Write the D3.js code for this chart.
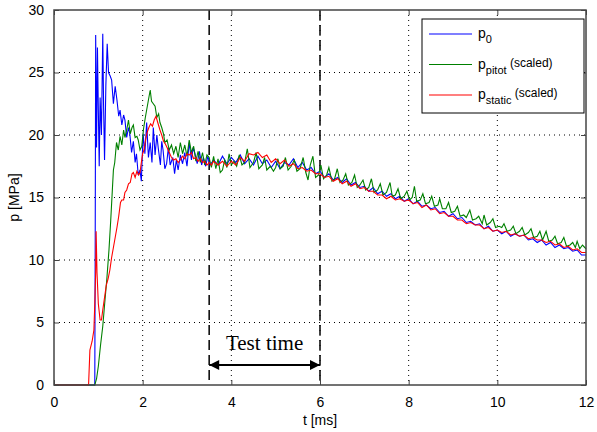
<!DOCTYPE html>
<html>
<head>
<meta charset="utf-8">
<script src="https://cdn.jsdelivr.net/npm/d3@7"></script>
<style>
  body { margin: 0; background: #fff; }
  text { font-family: "Liberation Sans Narrow", "Liberation Sans", Arial, sans-serif; }
</style>
</head>
<body>
<script>
// pressure traces, [t (ms), p (MPa)]
var p0 = [[0,0],[0.92,0],[0.93,12],[0.94,28],[0.96,19],[0.98,27],[1.0,22],[1.02,17.5],[1.04,23],[1.07,20],[1.1,28.1],[1.12,22],[1.14,18],[1.17,24],[1.2,27.3],[1.23,25],[1.27,24.7],[1.3,24.4],[1.34,22.5],[1.38,23.9],[1.42,22.8],[1.46,21.5],[1.49,22],[1.53,20.8],[1.57,21.6],[1.6,21.2],[1.64,19.8],[1.68,20.6],[1.71,20.1],[1.75,18.6],[1.79,19.5],[1.83,17.8],[1.86,18.5],[1.9,16.8],[1.94,17.2],[1.97,16.3],[2.01,20.1],[2.05,18.5],[2.09,21],[2.13,18.2],[2.17,19.4],[2.21,17.8],[2.24,20.6],[2.28,18.4],[2.32,20],[2.35,19],[2.4,17.6],[2.43,19.5],[2.46,18.8],[2.5,17.3],[2.54,17.7],[2.58,19],[2.62,17.6],[2.68,18.2],[2.72,16.9],[2.76,18],[2.8,17.2],[2.85,18.4],[2.9,17.7],[2.95,18.6],[3.0,17.5],[3.05,19.4],[3.1,18],[3.14,19],[3.18,18.5],[3.23,17.7],[3.28,18.7],[3.33,17.6],[3.37,18.2],[3.42,17.5],[3.47,18.3],[3.52,17.6],[3.6,18.0],[3.7,17.6],[3.8,18.3],[3.9,17.7],[4.0,18.2],[4.1,17.8],[4.2,18.4],[4.3,17.7],[4.4,18.1],[4.5,17.6],[4.6,18.3],[4.7,17.7],[4.8,18.0],[4.9,17.4],[5.0,17.9],[5.1,17.3],[5.2,17.8],[5.3,17.6],[5.4,18.1],[5.5,17.4],[5.6,17.8],[5.7,17.2],[5.8,17.4],[5.9,16.9],[6.0,17.1],[6.1,16.6],[6.2,16.9],[6.3,16.4],[6.4,16.6],[6.5,16.2],[6.6,16.5],[6.7,16.0],[6.8,16.2],[6.9,15.8],[7.0,15.9],[7.1,15.5],[7.2,15.8],[7.3,15.3],[7.4,15.5],[7.5,15.1],[7.6,15.3],[7.7,14.9],[7.8,15.1],[7.9,14.7],[8.0,14.9],[8.1,14.5],[8.2,14.7],[8.3,14.3],[8.4,14.4],[8.5,14.1],[8.6,14.2],[8.7,13.8],[8.8,13.9],[8.9,13.5],[9.0,13.7],[9.1,13.3],[9.2,13.4],[9.3,13.0],[9.4,13.1],[9.5,12.8],[9.6,12.9],[9.7,12.5],[9.8,12.7],[9.9,12.3],[10.0,12.4],[10.1,12.1],[10.2,12.3],[10.3,11.9],[10.4,12.1],[10.5,11.9],[10.6,12.0],[10.7,11.6],[10.8,11.7],[10.9,11.4],[11.0,11.6],[11.1,11.2],[11.2,11.4],[11.3,11.0],[11.4,11.2],[11.5,10.9],[11.6,11.0],[11.7,10.7],[11.8,10.8],[11.9,10.4],[12.0,10.4]];

var pPitot = [[0,0],[0.92,0],[0.96,0.5],[1.0,1.5],[1.05,3.2],[1.1,4.7],[1.15,6.8],[1.19,8.4],[1.24,10.8],[1.28,13.2],[1.31,15.2],[1.34,17.2],[1.37,17.8],[1.41,19.4],[1.45,18.8],[1.49,19.9],[1.53,19.2],[1.57,20.4],[1.6,19.8],[1.64,20.4],[1.68,21.2],[1.72,20.1],[1.76,20.6],[1.79,20.8],[1.83,19.8],[1.87,19.9],[1.9,19.6],[1.94,18.8],[1.98,19.1],[2.02,20.5],[2.06,21.4],[2.09,22],[2.13,22.8],[2.17,23.6],[2.2,22.7],[2.24,22.5],[2.28,22.3],[2.32,21.4],[2.36,21.7],[2.39,21],[2.43,20.6],[2.47,20.1],[2.5,19.4],[2.55,19.6],[2.6,18.8],[2.65,19.2],[2.7,18.5],[2.75,19.1],[2.8,18.2],[2.85,19.4],[2.9,18.5],[2.95,19.2],[3.0,18.3],[3.05,19.6],[3.1,18.6],[3.15,19.1],[3.2,17.9],[3.25,18.7],[3.3,17.8],[3.35,18.6],[3.4,17.6],[3.45,18.4],[3.5,18.2],[3.55,17.4],[3.6,18.3],[3.65,17.3],[3.7,18.1],[3.75,17.0],[3.8,17.2],[3.85,18.0],[3.9,17.4],[3.95,18.5],[4.0,17.6],[4.06,17.9],[4.12,17.5],[4.18,18.4],[4.24,17.6],[4.3,17.8],[4.36,18.9],[4.42,17.4],[4.5,17.8],[4.56,18.6],[4.62,17.3],[4.7,17.6],[4.75,18.2],[4.8,17.2],[4.88,17.5],[4.95,17.1],[5.0,17.4],[5.05,18.1],[5.1,17.3],[5.17,17.5],[5.22,18.2],[5.28,17.2],[5.35,17.5],[5.42,18.0],[5.48,17.1],[5.55,17.3],[5.62,18.2],[5.68,17.0],[5.73,16.4],[5.78,17.6],[5.84,18.3],[5.9,16.6],[5.97,16.8],[6.02,17.6],[6.08,16.5],[6.15,16.8],[6.2,17.4],[6.27,16.3],[6.33,16.5],[6.39,17.3],[6.45,16.2],[6.52,16.4],[6.58,16.9],[6.64,16.0],[6.72,16.2],[6.78,16.8],[6.84,15.8],[6.9,16.0],[6.97,16.4],[7.03,15.6],[7.1,15.8],[7.16,16.5],[7.22,15.4],[7.3,15.6],[7.36,16.1],[7.42,15.2],[7.5,15.4],[7.58,16.2],[7.63,15.1],[7.7,15.2],[7.76,15.7],[7.82,14.9],[7.9,15.1],[7.96,15.5],[8.02,14.8],[8.08,15.0],[8.13,15.9],[8.18,14.7],[8.26,14.8],[8.32,15.3],[8.38,14.5],[8.46,14.6],[8.52,15.1],[8.58,14.3],[8.66,14.4],[8.7,14.9],[8.76,14.1],[8.84,14.1],[8.9,14.6],[8.96,13.8],[9.04,13.9],[9.1,14.3],[9.16,13.5],[9.24,13.6],[9.3,13.4],[9.38,14.0],[9.44,13.2],[9.52,13.3],[9.58,13.5],[9.66,12.9],[9.7,13.6],[9.76,12.8],[9.84,13.0],[9.9,13.3],[9.96,12.6],[10.04,12.7],[10.1,12.6],[10.15,12.9],[10.22,12.3],[10.3,12.4],[10.36,12.7],[10.42,12.1],[10.5,12.3],[10.56,12.6],[10.62,12.0],[10.7,12.2],[10.76,12.5],[10.82,11.8],[10.9,11.9],[10.96,12.3],[11.02,11.6],[11.1,12.3],[11.16,11.5],[11.24,11.6],[11.3,11.9],[11.36,11.3],[11.44,11.4],[11.5,11.8],[11.56,11.1],[11.64,11.2],[11.7,11.4],[11.76,11.0],[11.8,11.5],[11.86,10.9],[11.92,11.2],[12.0,10.9]];

var pStatic = [[0,0],[0.78,0],[0.81,2.8],[0.86,3.5],[0.9,4.4],[0.92,6.5],[0.94,9],[0.95,12.3],[0.97,9],[1.0,6.5],[1.04,5.2],[1.07,5.2],[1.1,6],[1.14,7],[1.18,8],[1.22,8.5],[1.26,9.2],[1.3,10.2],[1.34,11],[1.38,11.8],[1.42,12.6],[1.46,13.5],[1.5,14.6],[1.53,14.8],[1.57,14.8],[1.6,15.4],[1.64,15.6],[1.68,16.1],[1.72,16.2],[1.76,16.9],[1.79,17],[1.83,16.6],[1.87,17.1],[1.91,16.8],[1.94,17],[1.97,17.8],[2.0,18.5],[2.03,18.8],[2.06,19.5],[2.1,20.2],[2.14,20.6],[2.18,20.9],[2.22,20.7],[2.26,21.2],[2.3,21.5],[2.34,21.0],[2.39,20.4],[2.43,20],[2.47,19.5],[2.51,19.3],[2.55,19],[2.6,18.6],[2.65,18.2],[2.7,18],[2.75,18.1],[2.8,17.8],[2.85,18],[2.9,18.3],[2.95,18.1],[3.0,18.5],[3.05,18.4],[3.1,18.6],[3.15,18.1],[3.2,18.2],[3.25,17.9],[3.3,18.1],[3.35,17.8],[3.4,17.9],[3.45,17.6],[3.5,17.8],[3.55,17.6],[3.6,17.9],[3.7,17.6],[3.8,17.9],[3.9,17.5],[4.0,17.9],[4.1,17.6],[4.2,18.2],[4.3,17.9],[4.4,18.5],[4.5,18.4],[4.6,18.6],[4.7,18.2],[4.8,18.4],[4.9,17.8],[5.0,18.1],[5.1,17.7],[5.2,18.0],[5.3,17.5],[5.4,17.7],[5.5,17.3],[5.6,17.4],[5.7,17.1],[5.8,17.2],[5.9,16.9],[6.0,16.9],[6.1,16.6],[6.2,16.7],[6.3,16.3],[6.4,16.5],[6.5,16.1],[6.6,16.3],[6.7,15.9],[6.8,16.1],[6.9,15.7],[7.0,15.8],[7.1,15.5],[7.2,15.5],[7.3,15.2],[7.4,15.2],[7.5,14.9],[7.6,15.1],[7.7,14.8],[7.8,14.9],[7.9,14.7],[8.0,14.8],[8.1,14.5],[8.2,14.6],[8.3,14.2],[8.4,14.4],[8.5,14.0],[8.6,14.1],[8.7,13.7],[8.8,13.8],[8.9,13.5],[9.0,13.5],[9.1,13.2],[9.2,13.2],[9.3,12.9],[9.4,13.0],[9.5,12.8],[9.6,12.8],[9.7,12.5],[9.8,12.6],[9.9,12.3],[10.0,12.4],[10.1,12.2],[10.2,12.3],[10.3,12.0],[10.4,12.1],[10.5,11.9],[10.6,12.0],[10.7,11.7],[10.8,11.8],[10.9,11.6],[11.0,11.6],[11.1,11.4],[11.2,11.5],[11.3,11.2],[11.4,11.3],[11.5,11.0],[11.6,11.1],[11.7,10.8],[11.8,10.9],[11.9,10.6],[12.0,10.6]];

var xTicks = [0, 2, 4, 6, 8, 10, 12];
var yTicks = [0, 5, 10, 15, 20, 25, 30];
var testTime = [3.5, 6];

var margin = {top: 10, right: 11, bottom: 47, left: 54},
    width = 597 - margin.left - margin.right,
    height = 432 - margin.top - margin.bottom;

var svg = d3.select("body")
    .append("svg")
        .attr("width", 597)
        .attr("height", 432)
    .append("g")
        .attr("transform", "translate(" + margin.left + "," + margin.top + ")");

var x = d3.scaleLinear().domain([0, 12]).range([0, width]);
var y = d3.scaleLinear().domain([0, 30]).range([height, 0]);

// dotted grid
svg.selectAll(".gx").data(xTicks.slice(1, -1)).enter().append("line")
    .attr("x1", function(d){ return x(d); }).attr("x2", function(d){ return x(d); })
    .attr("y1", 0).attr("y2", height)
    .style("stroke", "#000").style("stroke-width", 1).style("stroke-dasharray", "1,4");
svg.selectAll(".gy").data(yTicks.slice(1, -1)).enter().append("line")
    .attr("y1", function(d){ return y(d); }).attr("y2", function(d){ return y(d); })
    .attr("x1", 0).attr("x2", width)
    .style("stroke", "#000").style("stroke-width", 1).style("stroke-dasharray", "1,4");

// test time markers
svg.selectAll(".tt").data(testTime).enter().append("line")
    .attr("x1", function(d){ return x(d); }).attr("x2", function(d){ return x(d); })
    .attr("y1", 0).attr("y2", height)
    .style("stroke", "#000").style("stroke-width", 1.5).style("stroke-dasharray", "10,5");

var line = d3.line()
    .x(function(d){ return x(d[0]); })
    .y(function(d){ return y(d[1]); });

var series = [
    {data: p0, color: "#0000ff", name: "p", sub: "0", extra: ""},
    {data: pPitot, color: "#008000", name: "p", sub: "pitot", extra: " (scaled)"},
    {data: pStatic, color: "#ff0000", name: "p", sub: "static", extra: " (scaled)"}
];

series.forEach(function(s){
    svg.append("path")
        .datum(s.data)
        .attr("d", line)
        .style("fill", "none")
        .style("stroke", s.color)
        .style("stroke-width", 1.1);
});

// axes, ticks pointing in (MATLAB style)
var axCol = "#444";
function styleAxis(g){
    g.select(".domain").remove();
    g.selectAll(".tick line").style("stroke", axCol);
    g.selectAll("text").style("font-size", "14px").style("fill", "#000");
}
svg.append("g").attr("transform", "translate(0," + height + ")")
    .call(d3.axisBottom(x).tickValues(xTicks).tickSizeInner(-5).tickSizeOuter(0).tickPadding(12))
    .call(styleAxis);
svg.append("g")
    .call(d3.axisTop(x).tickValues(xTicks).tickSizeInner(-5).tickSizeOuter(0).tickFormat(""))
    .call(styleAxis);
svg.append("g")
    .call(d3.axisLeft(y).tickValues(yTicks).tickSizeInner(-5).tickSizeOuter(0).tickPadding(10))
    .call(styleAxis);
svg.append("g").attr("transform", "translate(" + width + ",0)")
    .call(d3.axisRight(y).tickValues(yTicks).tickSizeInner(-5).tickSizeOuter(0).tickFormat(""))
    .call(styleAxis);

svg.append("rect")
    .attr("width", width).attr("height", height)
    .style("fill", "none").style("stroke", axCol).style("stroke-width", 1.5);

// axis titles
svg.append("text")
    .attr("x", width / 2).attr("y", height + 40)
    .attr("text-anchor", "middle")
    .style("font-size", "14px")
    .text("t [ms]");
svg.append("text")
    .attr("transform", "translate(" + (-35) + "," + (height / 2) + ") rotate(-90)")
    .attr("text-anchor", "middle")
    .style("font-size", "14px")
    .text("p [MPa]");

// test time annotation
var arrowY = y(1.6);
var defs = svg.append("defs");
defs.append("marker")
    .attr("id", "ah")
    .attr("viewBox", "0 0 10 10")
    .attr("refX", 10).attr("refY", 5)
    .attr("markerWidth", 14).attr("markerHeight", 10)
    .attr("markerUnits", "userSpaceOnUse")
    .attr("orient", "auto-start-reverse")
    .append("path").attr("d", "M0,0 L10,5 L0,10 Z").style("fill", "#000");

svg.append("line")
    .attr("x1", x(testTime[0])).attr("x2", x(testTime[1]))
    .attr("y1", arrowY).attr("y2", arrowY)
    .style("stroke", "#000").style("stroke-width", 2)
    .attr("marker-start", "url(#ah)").attr("marker-end", "url(#ah)");

svg.append("text")
    .attr("x", (x(testTime[0]) + x(testTime[1])) / 2)
    .attr("y", arrowY - 15)
    .attr("text-anchor", "middle")
    .style("font-family", "'Liberation Serif', 'Times New Roman', serif")
    .style("font-size", "21px")
    .text("Test time");

// legend
var lg = svg.append("g").attr("transform", "translate(" + (422 - margin.left) + "," + (19 - margin.top) + ")");
lg.append("rect")
    .attr("width", 162).attr("height", 94)
    .style("fill", "#fff").style("stroke", "#000").style("stroke-width", 1);

series.forEach(function(s, i){
    var yy = 15 + i * 30.5;
    lg.append("line")
        .attr("x1", 7).attr("x2", 50)
        .attr("y1", yy).attr("y2", yy)
        .style("stroke", s.color).style("stroke-width", 1.1);
    var t = lg.append("text")
        .attr("x", 56).attr("y", yy + 4)
        .style("font-size", "14px");
    t.append("tspan").text(s.name);
    t.append("tspan").attr("dy", 5).style("font-size", "11px").text(s.sub);
    if (s.extra) {
        t.append("tspan").attr("dy", -7).style("font-size", "12px").text(s.extra);
    }
});
</script>
</body>
</html>
